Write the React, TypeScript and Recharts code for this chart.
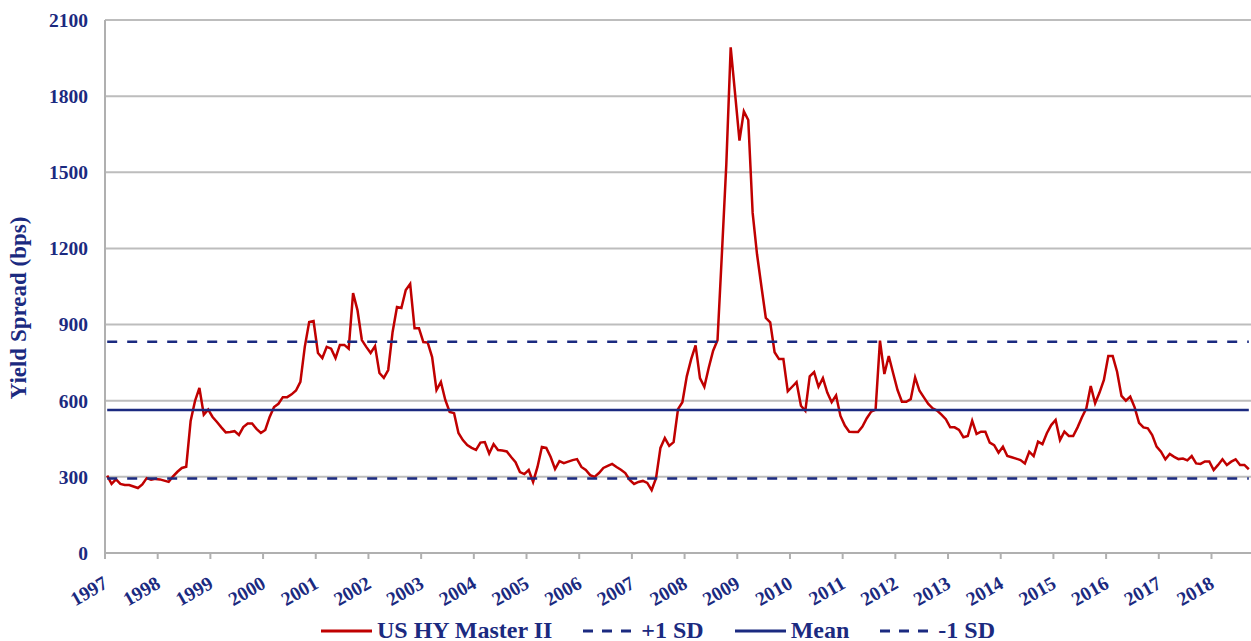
import { LineChart, Line, XAxis, YAxis, CartesianGrid } from 'recharts';

// US HY Master II option-adjusted spread, monthly Jan 1997 - Sep 2018 (bps)
const SPREAD = [
  305, 272, 290, 272, 268, 268, 262, 256, 270, 295, 289, 292,
  290, 285, 280, 302, 320, 335, 340, 520, 599, 650, 545, 565,
  536, 516, 495, 475, 477, 480, 465, 496, 510, 510, 489, 473,
  485, 536, 575, 588, 614, 614, 625, 640, 674, 812, 910, 914,
  788, 768, 812, 805, 768, 820, 820, 805, 1024, 957, 839, 812,
  788, 815, 709, 690, 721, 871, 969, 965, 1036, 1060, 886, 886,
  831, 829, 772, 642, 674, 603, 556, 551, 473, 445, 425, 414,
  406, 435, 437, 392, 429, 406, 404, 400, 378, 358, 319, 311,
  327, 280, 339, 418, 414, 378, 331, 362, 354, 360, 366, 370,
  339, 327, 307, 300, 315, 335, 343, 351, 339, 328, 315, 288,
  272, 280, 284, 276, 248, 295, 414, 453, 422, 437, 567, 594,
  696, 764, 818, 689, 655, 730, 797, 838, 1180, 1530, 1992, 1810,
  1625, 1740, 1706, 1340, 1177, 1050, 926, 909, 791, 764, 764, 637,
  655, 673, 580, 560, 696, 713, 655, 689, 632, 594, 621, 540,
  502, 478, 477, 477, 498, 531, 557, 565, 837, 705, 776, 708,
  642, 596, 596, 606, 692, 639, 613, 587, 570, 561, 545, 527,
  495, 495, 485, 456, 461, 521, 469, 478, 478, 435, 425, 395,
  419, 382, 377, 372, 366, 353, 399, 382, 439, 429, 472, 504,
  524, 445, 478, 461, 461, 495, 535, 570, 658, 590, 632, 682,
  776, 776, 714, 619, 600, 616, 574, 513, 495, 491, 465, 419,
  399, 369, 390, 379, 370, 372, 365, 382, 353, 351, 361, 361,
  327, 347, 369, 347, 360, 369, 347, 347, 330,
];

const MEAN = 563;
const SD = 269;

const YEARS = [
  1997, 1998, 1999, 2000, 2001, 2002, 2003, 2004, 2005, 2006, 2007,
  2008, 2009, 2010, 2011, 2012, 2013, 2014, 2015, 2016, 2017, 2018,
];
const Y_TICKS = [0, 300, 600, 900, 1200, 1500, 1800, 2100];

const LEGEND = [
  { name: 'US HY Master II', color: '#c00000', dash: undefined, w: 51 },
  { name: '+1 SD', color: '#1b2a80', dash: '10 9', w: 56 },
  { name: 'Mean', color: '#1b2a80', dash: undefined, w: 51 },
  { name: '-1 SD', color: '#1b2a80', dash: '10 9', w: 56 },
];

const NAVY = '#1b2a80';
const FONT = '"Liberation Serif", "Times New Roman", serif';

const data = SPREAD.map((v, i) => ({
  x: i + 0.5,
  spread: v,
  plus: MEAN + SD,
  mean: MEAN,
  minus: MEAN - SD,
}));

const yearTicks = YEARS.map((_, k) => k * 12);

function YearTick(props: any) {
  const { x, y, index } = props;
  const ax = x + 4;
  const ay = y + 26;
  return (
    <text
      x={ax}
      y={ay}
      transform={`rotate(-30 ${ax} ${ay})`}
      textAnchor="end"
      fill={NAVY}
      fontFamily={FONT}
      fontWeight="bold"
      fontSize={19.5}
    >
      {YEARS[index]}
    </text>
  );
}

export default function App() {
  return (
    <div style={{ position: 'absolute', left: 0, top: 0, width: 1251, height: 641, background: '#fff' }}>
      <LineChart width={1251} height={641} data={data} margin={{ top: 20, right: 0, bottom: 38, left: 0 }}>
        <CartesianGrid vertical={false} stroke="#bdbdbd" strokeWidth={2} />
        <XAxis
          type="number"
          dataKey="x"
          domain={[0, SPREAD.length]}
          ticks={yearTicks}
          interval={0}
          height={50}
          axisLine={{ stroke: '#b0b0b0', strokeWidth: 2 }}
          tickLine={{ stroke: '#b0b0b0', strokeWidth: 2 }}
          tickSize={6}
          tick={<YearTick />}
        />
        <YAxis
          domain={[0, 2100]}
          ticks={Y_TICKS}
          interval={0}
          width={105}
          axisLine={{ stroke: '#b0b0b0', strokeWidth: 2 }}
          tickLine={false}
          tickSize={0}
          tickMargin={17}
          tick={{ fill: NAVY, fontFamily: FONT, fontWeight: 'bold', fontSize: 19.5 }}
        />
        <Line type="linear" dataKey="spread" stroke="#c00000" strokeWidth={2.5} dot={false} isAnimationActive={false} />
        <Line type="linear" dataKey="plus" stroke={NAVY} strokeWidth={2.5} strokeDasharray="10 10" dot={false} isAnimationActive={false} />
        <Line type="linear" dataKey="mean" stroke={NAVY} strokeWidth={2.5} dot={false} isAnimationActive={false} />
        <Line type="linear" dataKey="minus" stroke={NAVY} strokeWidth={2.5} strokeDasharray="10 10" dot={false} isAnimationActive={false} />
      </LineChart>

      <svg width={40} height={641} style={{ position: 'absolute', left: 0, top: 0 }}>
        <text
          x={26}
          y={308}
          transform="rotate(-90 26 308)"
          textAnchor="middle"
          fill={NAVY}
          fontFamily={FONT}
          fontWeight="bold"
          fontSize={23}
        >
          Yield Spread (bps)
        </text>
      </svg>

      <div
        style={{
          position: 'absolute',
          left: 321,
          top: 617,
          display: 'flex',
          alignItems: 'center',
          fontFamily: FONT,
          fontWeight: 'bold',
          fontSize: 24,
          color: NAVY,
          whiteSpace: 'nowrap',
        }}
      >
        {LEGEND.map((item) => (
          <div key={item.name} style={{ display: 'flex', alignItems: 'center', marginRight: 31 }}>
            <svg width={item.w} height={10} style={{ marginRight: item.dash ? 2 : 5 }}>
              <line x1={0} y1={5} x2={item.w} y2={5} stroke={item.color} strokeWidth={3} strokeDasharray={item.dash} />
            </svg>
            <span>{item.name}</span>
          </div>
        ))}
      </div>
    </div>
  );
}
